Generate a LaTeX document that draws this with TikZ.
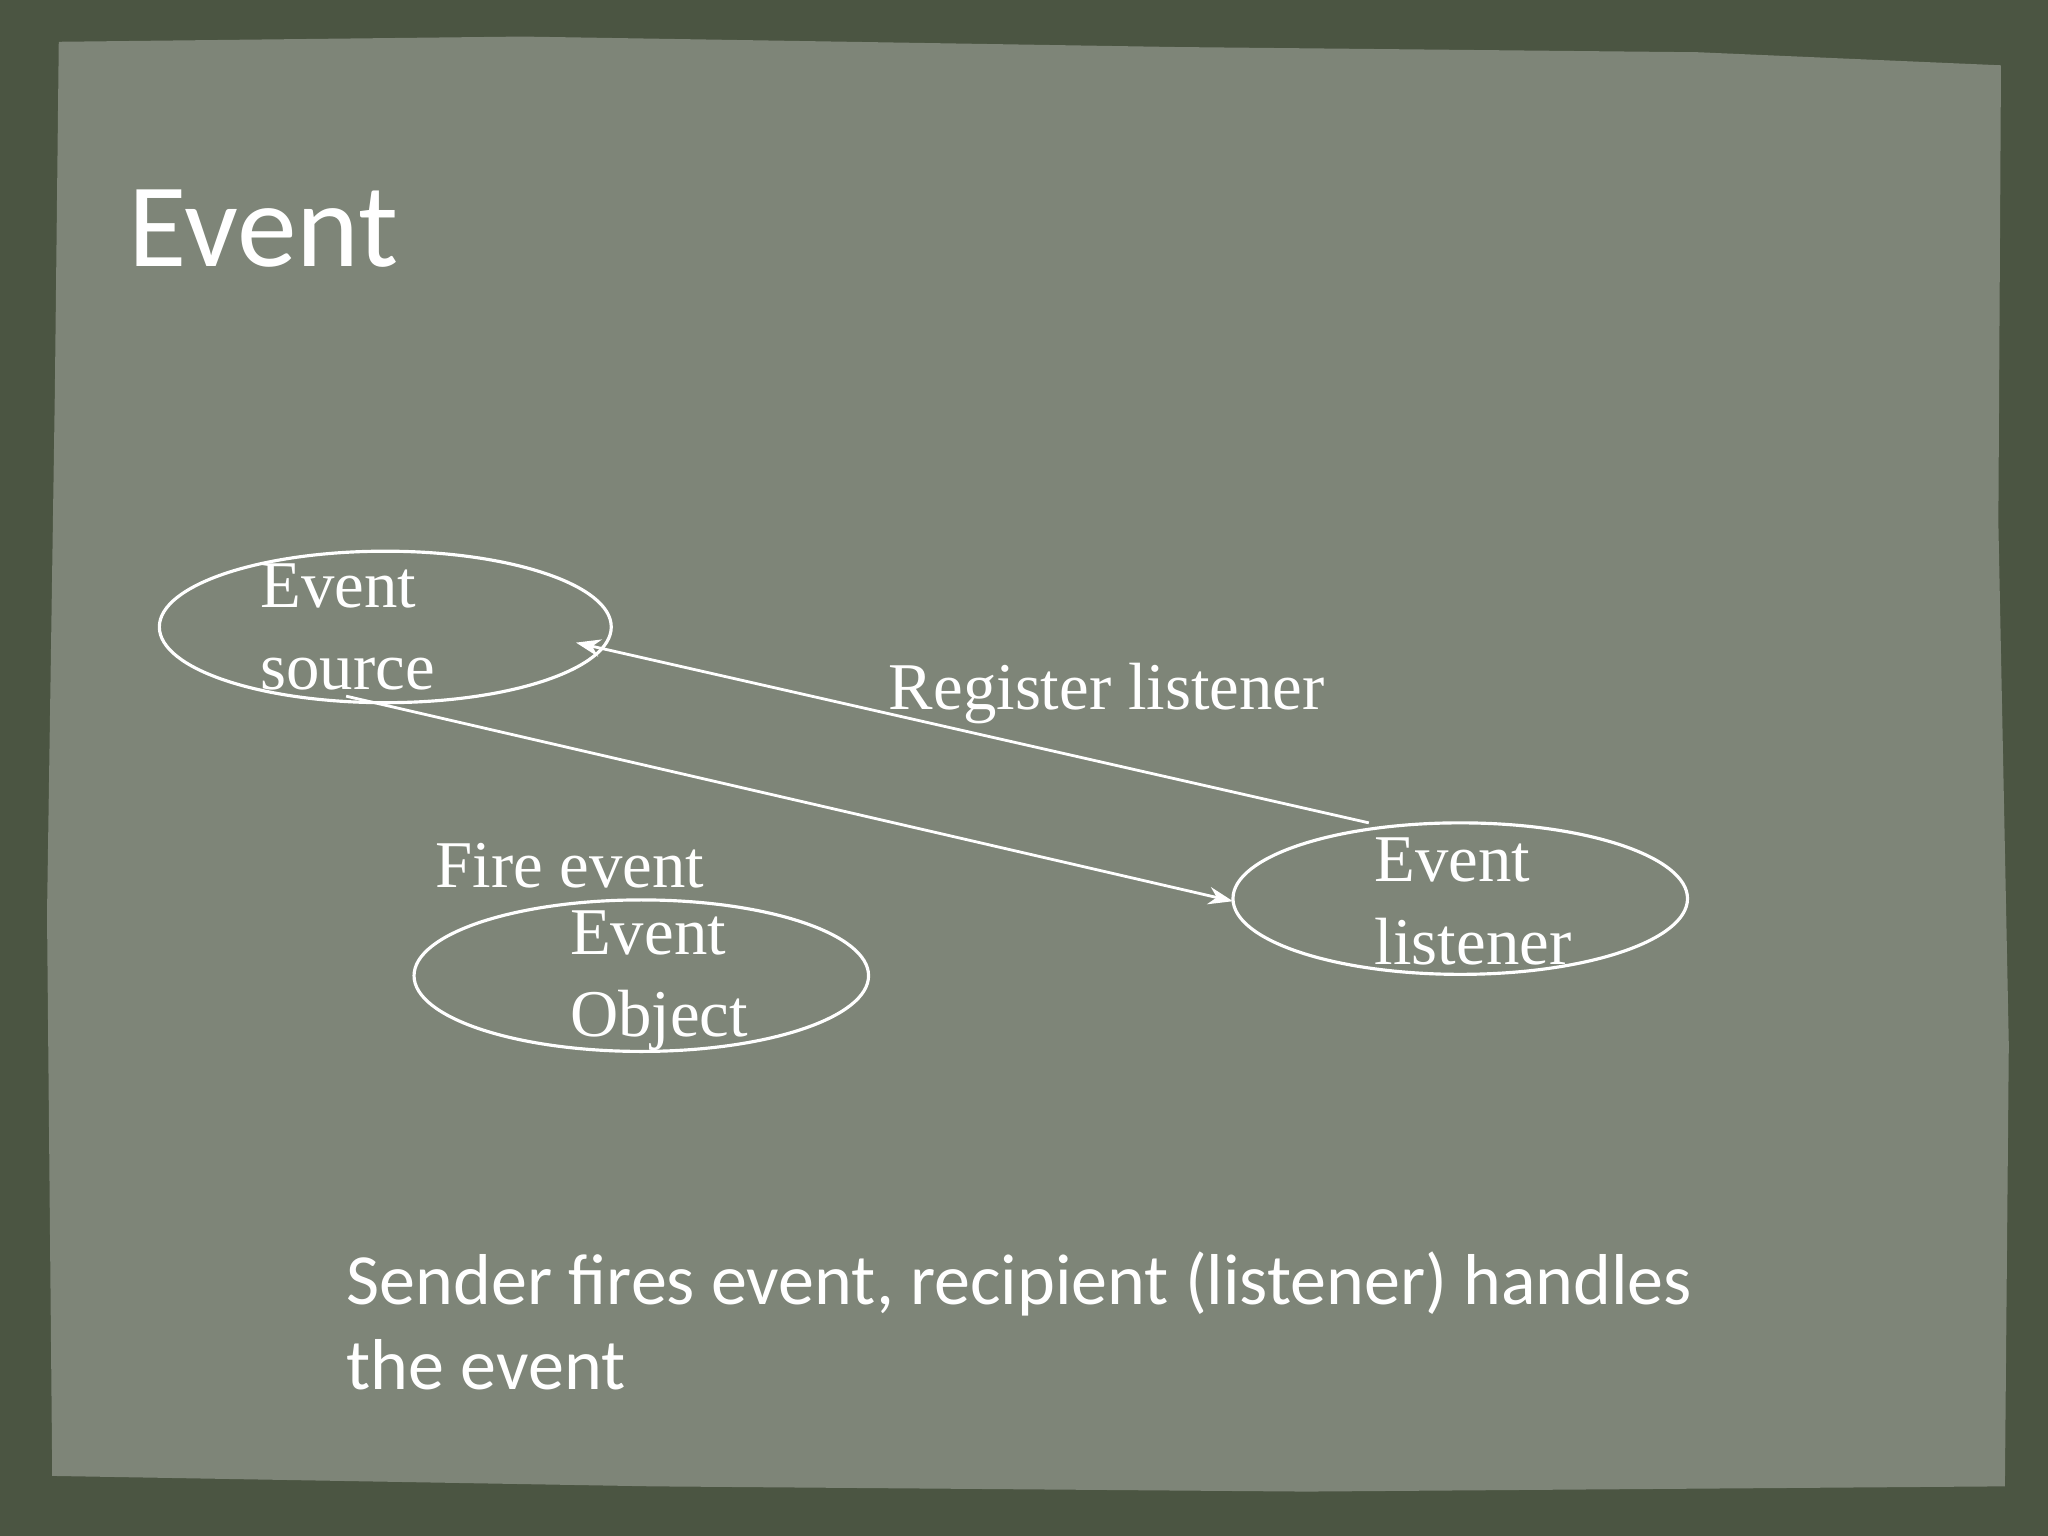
\documentclass[tikz,border=0pt]{standalone}
\usepackage{fontspec}
\usetikzlibrary{arrows.meta}
\setmainfont{Liberation Serif}
\newfontfamily\slidefont{Carlito}
\definecolor{frame}{HTML}{4B5542}
\definecolor{paper}{HTML}{7E8578}
\begin{document}
\begin{tikzpicture}[x=0.01306cm,y=-0.01306cm,
  lbl/.style={text=white,font=\fontsize{19}{23.5}\selectfont,align=left,anchor=west,inner sep=0pt},
  arr/.style={draw=white,line width=0.8pt,-{Stealth[length=7pt,width=5pt]}}]
\useasboundingbox (0,0) rectangle (1568,1176);
\fill[frame] (0,0) rectangle (1568,1176);
\fill[paper] (45,32) -- (400,28) -- (900,36) -- (1300,40) -- (1532,50) -- (1530,400) -- (1538,800) -- (1535,1138) -- (1000,1142) -- (500,1138) -- (40,1130) -- (36,700) -- (42,300) -- cycle;
\node[text=white,font=\slidefont\fontsize{34}{40}\selectfont,anchor=west,inner sep=0pt] (title) at (98,175) {Event};
\draw[white,line width=0.9pt] (295,480) ellipse [x radius=173,y radius=58];
\draw[white,line width=0.9pt] (1118,688) ellipse [x radius=174,y radius=58];
\draw[white,line width=0.9pt] (491,747) ellipse [x radius=174,y radius=58];
\coordinate (srcin) at (441,492);
\coordinate (srcout) at (265,533);
\coordinate (lisout) at (1048,630);
\coordinate (lisin) at (944,690);
\node[lbl] (src) at (199,480) {Event\\source};
\node[lbl] (lis) at (1052,690) {Event\\listener};
\node[lbl] (obj) at (436,751) {Event\\Object};
\draw[arr] (lisout) -- (srcin);
\draw[arr] (srcout) -- (lisin);
\node[lbl] (reg) at (680,531) {Register listener};
\node[lbl] (fire) at (333,663) {Fire event};
\node[text=white,font=\slidefont\fontsize{20.5}{24}\selectfont,align=left,anchor=north west,inner sep=0pt] (note) at (265,958) {Sender fires event, recipient (listener) handles\\the event};
\end{tikzpicture}
\end{document}
